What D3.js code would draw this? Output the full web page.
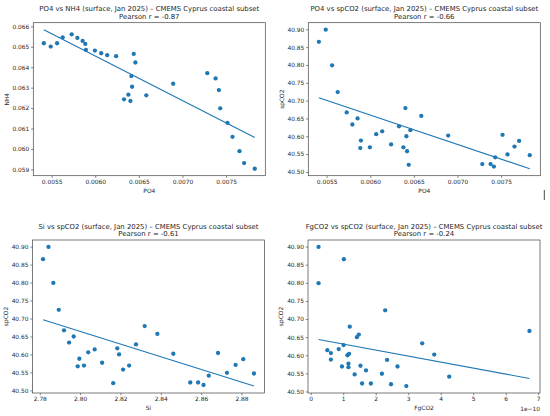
<!DOCTYPE html>
<html>
<head>
<meta charset="utf-8">
<script src="https://cdn.jsdelivr.net/npm/d3@7"></script>
<style>
body { margin: 0; background: #fff; }
text { font-family: "DejaVu Sans", sans-serif; fill: #262626; }
</style>
</head>
<body>
<div id="container"></div>
<script>
// one station per index, same order in every array
var PO4 = [0.005411, 0.005490, 0.005563, 0.005627, 0.005730, 0.005795, 0.005855, 0.005886,
           0.005893, 0.005996, 0.006068, 0.006137, 0.006239, 0.006330, 0.006380, 0.006403,
           0.006414, 0.006422, 0.006441, 0.006460, 0.006585, 0.006893, 0.007284, 0.007379,
           0.007417, 0.007432, 0.007516, 0.007573, 0.007653, 0.007706, 0.007828];
var NH4 = [0.065172, 0.065009, 0.065172, 0.065464, 0.065610, 0.065432, 0.065285, 0.065139,
           0.064847, 0.064814, 0.064684, 0.064587, 0.064538, 0.062427, 0.062654, 0.062346,
           0.063564, 0.063044, 0.064652, 0.064230, 0.062622, 0.063190, 0.063710, 0.063450,
           0.062882, 0.061988, 0.061274, 0.060592, 0.059893, 0.059308, 0.059032];
var spCO2 = [40.865, 40.899, 40.799, 40.724, 40.667, 40.633, 40.650, 40.567,
             40.588, 40.569, 40.606, 40.614, 40.577, 40.628, 40.569, 40.679,
             40.600, 40.558, 40.520, 40.617, 40.657, 40.602, 40.522, 40.522,
             40.515, 40.541, 40.604, 40.549, 40.571, 40.587, 40.547];
var Si = [2.7816, 2.7843, 2.7867, 2.7894, 2.7920, 2.7945, 2.7968, 2.7988,
          2.7996, 2.8019, 2.8040, 2.8072, 2.8109, 2.8277, 2.8243, 2.8320,
          2.8193, 2.8213, 2.8164, 2.8184, 2.8383, 2.8462, 2.8546, 2.8585,
          2.8612, 2.8638, 2.8684, 2.8728, 2.8771, 2.8809, 2.8862];
var FgCO2 = [1.02e-10, 0.24e-10, 0.24e-10, 2.29e-10, 6.73e-10, 3.43e-10, 1.42e-10, 1.16e-10,
             0.62e-10, 0.96e-10, 0.62e-10, 0.51e-10, 1.16e-10, 1.01e-10, 2.67e-10, 1.20e-10,
             1.13e-10, 1.70e-10, 2.47e-10, 0.86e-10, 1.48e-10, 3.80e-10, 1.58e-10, 1.85e-10,
             2.94e-10, 4.26e-10, 1.18e-10, 2.19e-10, 1.53e-10, 2.35e-10, 1.35e-10];

var po4Ticks = [0.0055, 0.0060, 0.0065, 0.0070, 0.0075];
var nh4Ticks = [0.059, 0.060, 0.061, 0.062, 0.063, 0.064, 0.065, 0.066];
var co2Ticks = [40.50, 40.55, 40.60, 40.65, 40.70, 40.75, 40.80, 40.85, 40.90];
var siTicks = [2.78, 2.80, 2.82, 2.84, 2.86, 2.88];
var fgTicks = [0, 1e-10, 2e-10, 3e-10, 4e-10, 5e-10, 6e-10, 7e-10];
var fgTickLabels = ['0', '1', '2', '3', '4', '5', '6', '7'];

var titles = ['PO4 vs NH4 (surface, Jan 2025) \u2013 CMEMS Cyprus coastal subset',
              'PO4 vs spCO2 (surface, Jan 2025) \u2013 CMEMS Cyprus coastal subset',
              'Si vs spCO2 (surface, Jan 2025) \u2013 CMEMS Cyprus coastal subset',
              'FgCO2 vs spCO2 (surface, Jan 2025) \u2013 CMEMS Cyprus coastal subset'];
var pearson = ['Pearson r = -0.87', 'Pearson r = -0.66', 'Pearson r = -0.61', 'Pearson r = -0.24'];

var width = 550,
    height = 416,
    p_width = 232,
    p_height = 153,
    blue = '#1f77b4';

var svg = d3.select('#container')
    .append('svg')
    .attr('width', width)
    .attr('height', height)
svg.append('rect').attr('width', width).attr('height', height).attr('fill', '#fff')

var panels = [
    { left: 33.3, top: 22.7, x: PO4, y: NH4, xt: po4Ticks, yt: nh4Ticks, xf: d3.format('.4f'), yf: d3.format('.3f'), xl: 'PO4', yl: 'NH4' },
    { left: 308.3, top: 22.7, x: PO4, y: spCO2, xt: po4Ticks, yt: co2Ticks, xf: d3.format('.4f'), yf: d3.format('.2f'), xl: 'PO4', yl: 'spCO2' },
    { left: 32.5, top: 240, x: Si, y: spCO2, xt: siTicks, yt: co2Ticks, xf: d3.format('.2f'), yf: d3.format('.2f'), xl: 'Si', yl: 'spCO2' },
    { left: 308, top: 240, x: FgCO2, y: spCO2, xt: fgTicks, yt: co2Ticks, xf: function (d, i) { return fgTickLabels[i]; }, yf: d3.format('.2f'), xl: 'FgCO2', yl: 'spCO2', offset: '1e\u221210' }
];

// matplotlib style 5% margins
function pad(ext) {
    var m = (ext[1] - ext[0]) * 0.05;
    return [ext[0] - m, ext[1] + m];
}

panels.forEach(function (p, k) {
    var g = svg.append('g')
        .attr('transform', 'translate(' + p.left + ',' + p.top + ')')

    // least squares fit
    var mx = d3.mean(p.x), my = d3.mean(p.y);
    var sxy = d3.sum(p.x, function (d, i) { return (d - mx) * (p.y[i] - my); });
    var sxx = d3.sum(p.x, function (d) { return (d - mx) * (d - mx); });
    var b = sxy / sxx, a = my - b * mx;
    var fit = d3.extent(p.x).map(function (v) { return [v, a + b * v]; });

    var scale_x = d3.scaleLinear()
        .domain(pad(d3.extent(p.x)))
        .range([0, p_width])
    var scale_y = d3.scaleLinear()
        .domain(pad(d3.extent(p.y.concat(fit.map(function (d) { return d[1]; })))))
        .range([p_height, 0])

    var x_axis = d3.axisBottom(scale_x).tickValues(p.xt).tickFormat(p.xf).tickSize(2.2).tickPadding(1.8);
    var y_axis = d3.axisLeft(scale_y).tickValues(p.yt).tickFormat(p.yf).tickSize(2.2).tickPadding(1.8);

    var gx = g.append('g')
        .attr('transform', 'translate(0,' + p_height + ')')
        .call(x_axis)
    var gy = g.append('g')
        .call(y_axis)
    ;[gx, gy].forEach(function (ax) {
        ax.select('.domain').remove();
        ax.attr('font-family', null).attr('font-size', 5.9);
        ax.selectAll('line').attr('stroke', '#333').attr('stroke-width', 0.6);
        ax.selectAll('text').attr('fill', '#262626');
    });

    g.append('path')
        .attr('d', d3.line()
            .x(function (d) { return scale_x(d[0]); })
            .y(function (d) { return scale_y(d[1]); })(fit))
        .attr('fill', 'none')
        .attr('stroke', blue)
        .attr('stroke-width', 1.1)

    g.selectAll('circle')
        .data(p.x)
        .enter()
        .append('circle')
        .attr('cx', function (d) { return scale_x(d); })
        .attr('cy', function (d, i) { return scale_y(p.y[i]); })
        .attr('r', 2.15)
        .attr('fill', blue)

    g.append('rect')
        .attr('width', p_width)
        .attr('height', p_height)
        .attr('fill', 'none')
        .attr('stroke', '#444')
        .attr('stroke-width', 0.7)

    g.append('text')
        .text(titles[k])
        .attr('x', p_width / 2)
        .attr('y', -11.4)
        .attr('text-anchor', 'middle')
        .attr('font-size', 6.9)
    g.append('text')
        .text(pearson[k])
        .attr('x', p_width / 2)
        .attr('y', -4.2)
        .attr('text-anchor', 'middle')
        .attr('font-size', 6.9)

    g.append('text')
        .text(p.xl)
        .attr('x', p_width / 2)
        .attr('y', p_height + 17.2)
        .attr('text-anchor', 'middle')
        .attr('font-size', 5.9)
    g.append('text')
        .text(p.yl)
        .attr('transform', 'translate(-26.8,' + (p_height / 2) + ') rotate(-90)')
        .attr('dy', '0.35em')
        .attr('text-anchor', 'middle')
        .attr('font-size', 5.9)

    if (p.offset) {
        g.append('text')
            .text(p.offset)
            .attr('x', p_width)
            .attr('y', p_height + 17.5)
            .attr('text-anchor', 'end')
            .attr('font-size', 5.9)
    }
});

// stray cursor mark in the screenshot, right of the PO4 vs spCO2 panel
svg.append('line')
    .attr('x1', 544.3).attr('x2', 544.3)
    .attr('y1', 190).attr('y2', 200)
    .attr('stroke', '#333')
    .attr('stroke-width', 0.9)
</script>
</body>
</html>
